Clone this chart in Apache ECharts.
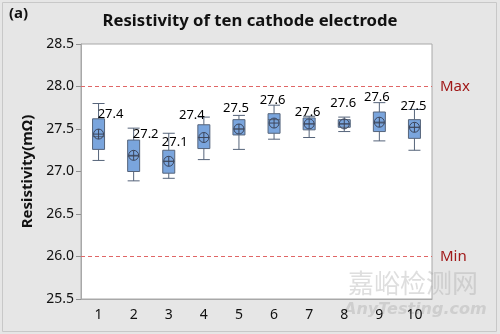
<!DOCTYPE html>
<html>
<head>
<meta charset="utf-8">
<script src="https://cdn.jsdelivr.net/npm/echarts@6/dist/echarts.min.js"></script>
<style>
html,body{margin:0;padding:0;background:#e6e6e6;}
#chart{width:500px;height:334px;}
</style>
</head>
<body>
<div id="chart"></div>
<script>
// ---- data ----
var categories = ['1','2','3','4','5','6','7','8','9','10'];
var whiskerLow  = [27.13, 26.89, 26.92, 27.14, 27.26, 27.38, 27.40, 27.47, 27.36, 27.25];
var q1          = [27.26, 27.00, 26.98, 27.27, 27.43, 27.45, 27.49, 27.52, 27.47, 27.39];
var median      = [27.41, 27.18, 27.12, 27.40, 27.50, 27.61, 27.56, 27.56, 27.57, 27.52];
var q3          = [27.62, 27.37, 27.25, 27.55, 27.61, 27.68, 27.63, 27.61, 27.70, 27.61];
var whiskerHigh = [27.80, 27.51, 27.45, 27.64, 27.66, 27.78, 27.65, 27.64, 27.81, 27.73];
var means       = [27.44, 27.19, 27.12, 27.40, 27.50, 27.57, 27.56, 27.56, 27.58, 27.52];
var yTicks = { min: 25.5, max: 28.5, step: 0.5 };
var specLimits = { max: 28.0, min: 26.0 };

// ---- label layout (style, pixel offsets from whisker top) ----
var labelOffsets = [[12,11],[12,6],[6,9],[-12,-2],[-3,-7],[-1.5,-5],[-1.5,-4],[-1,-14],[-2.5,-5],[-1,-3]];

var boxData = categories.map(function(c,i){
  return [whiskerLow[i], q1[i], median[i], q3[i], whiskerHigh[i]];
});
var meanData = categories.map(function(c,i){ return [c, means[i]]; });
var labelData = categories.map(function(c,i){
  return {
    value: [c, whiskerHigh[i], means[i]],
    label: { offset: labelOffsets[i] }
  };
});

var FONT = 'Noto Sans';
var chart = echarts.init(document.getElementById('chart'));
chart.setOption({
  backgroundColor: '#e6e6e6',
  animation: false,
  textStyle: { fontFamily: FONT },
  title: {
    text: 'Resistivity of ten cathode electrode',
    left: 'center', top: 8,
    textStyle: { fontFamily: FONT, fontSize: 16.7, fontWeight: 'bold', color: '#111111' }
  },
  graphic: [
    { type: 'rect', shape: { x: 2.5, y: 2.5, width: 494, height: 329 },
      style: { fill: 'none', stroke: '#c8c8c8', lineWidth: 1 }, silent: true, z: -1 },
    { type: 'text', left: 9, top: 6,
      style: { text: '(a)', font: 'bold 15px "Noto Sans"', fill: '#111111' } },
    { type: 'text', left: 348, top: 270,
      style: { text: '嘉峪检测网', font: '26px "Noto Sans CJK SC"', fill: 'rgba(160,160,160,0.35)' } },
    { type: 'text', left: 344, top: 302,
      style: { text: 'AnyTesting.com', font: 'italic bold 16px "DejaVu Sans"', fill: 'rgba(160,160,160,0.35)' } }
  ],
  grid: {
    left: 81, right: 68, top: 44, bottom: 35,
    show: true, backgroundColor: '#ffffff', borderColor: '#a8a8a8', borderWidth: 1
  },
  xAxis: {
    type: 'category',
    data: categories,
    boundaryGap: true,
    axisLine: { lineStyle: { color: '#a8a8a8' } },
    axisTick: { alignWithLabel: true, length: 5, lineStyle: { color: '#909090' } },
    axisLabel: { fontFamily: FONT, fontSize: 14, color: '#111111', margin: 9 },
    splitLine: { show: false }
  },
  yAxis: {
    type: 'value',
    min: yTicks.min, max: yTicks.max, interval: yTicks.step,
    name: 'Resistivity(mΩ)',
    nameLocation: 'middle', nameGap: 45,
    nameTextStyle: { fontFamily: FONT, fontSize: 15, fontWeight: 'bold', color: '#111111' },
    axisLine: { show: true, lineStyle: { color: '#a8a8a8' } },
    axisTick: { show: true, length: 5, lineStyle: { color: '#909090' } },
    axisLabel: { fontFamily: FONT, fontSize: 14, color: '#111111', margin: 7,
      formatter: function(v){ return v.toFixed(1); } },
    splitLine: { show: false }
  },
  series: [
    {
      type: 'boxplot',
      data: boxData,
      boxWidth: [12, 12],
      itemStyle: { color: '#7aa5dd', borderColor: '#56647a', borderWidth: 1 },
      markLine: {
        silent: true,
        symbol: 'none',
        lineStyle: { type: [4, 3], color: '#e06666', width: 1 },
        label: { position: 'end', distance: 8, fontFamily: FONT, fontSize: 15, color: '#a01818',
          formatter: function(p){ return p.name; } },
        data: [
          { name: 'Max', yAxis: specLimits.max },
          { name: 'Min', yAxis: specLimits.min }
        ]
      },
      z: 2
    },
    {
      type: 'scatter',
      data: meanData,
      symbol: 'path://M5,0A5,5,0,1,1,5,10A5,5,0,1,1,5,0ZM0,5L10,5M5,0L5,10',
      symbolSize: 10,
      itemStyle: { color: 'transparent', borderColor: '#3c465c', borderWidth: 1, opacity: 1 },
      z: 5
    },
    {
      type: 'scatter',
      data: labelData,
      symbolSize: 0,
      itemStyle: { opacity: 1 },
      label: {
        show: true, position: 'inside',
        fontFamily: FONT, fontSize: 13, color: '#000000',
        formatter: function(p){ return p.value[2].toFixed(1); }
      },
      z: 6
    }
  ]
});
</script>
</body>
</html>
